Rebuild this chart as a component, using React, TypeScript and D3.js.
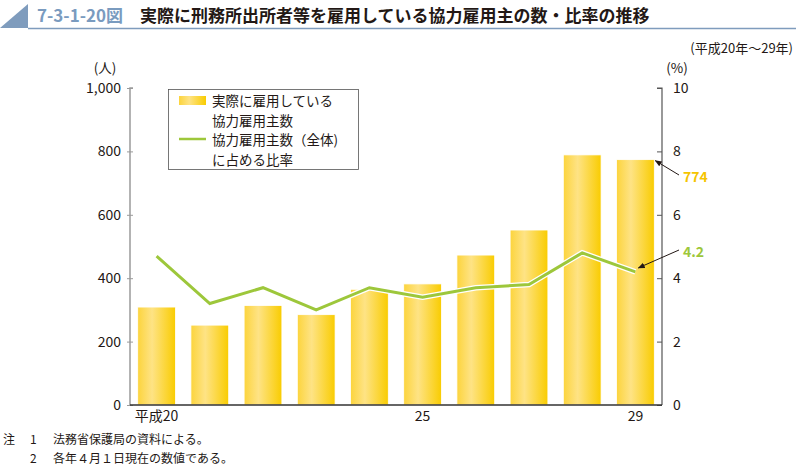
import { useEffect, useRef } from "react";
import * as d3 from "d3";

const YEARS = ["平成20", "21", "22", "23", "24", "25", "26", "27", "28", "29"];
const YEAR_LABELS = ["平成20", "", "", "", "", "25", "", "", "", "29"];
const EMPLOYERS = [309, 252, 314, 285, 365, 382, 473, 552, 789, 774];
const RATIO = [4.7, 3.2, 3.7, 3.0, 3.7, 3.4, 3.7, 3.8, 4.8, 4.2];
const LEFT_TICKS = [0, 200, 400, 600, 800, 1000];
const RIGHT_TICKS = [0, 2, 4, 6, 8, 10];

const FONT = "'Noto Sans CJK JP', 'Noto Sans', sans-serif";
const GREEN = "#9dc73b";
const YELLOW = "#f5c400";

export default function App() {
  const ref = useRef<SVGSVGElement | null>(null);

  useEffect(() => {
    if (!ref.current) return;
    const svg = d3.select(ref.current);
    svg.selectAll("*").remove();

    const left = 130, right = 662, top = 88, bottom = 405;
    const x = d3.scaleBand().domain(YEARS).range([left, right]).paddingInner(0.29).paddingOuter(0.145);
    const y = d3.scaleLinear().domain([0, 1000]).range([bottom, top]);
    const y2 = d3.scaleLinear().domain([0, 10]).range([bottom, top]);

    const defs = svg.append("defs");
    const grad = defs.append("linearGradient").attr("id", "barGrad")
      .attr("x1", "0%").attr("x2", "100%").attr("y1", "0%").attr("y2", "0%");
    grad.append("stop").attr("offset", "0%").attr("stop-color", "#fcd43c");
    grad.append("stop").attr("offset", "38%").attr("stop-color", "#fee385");
    grad.append("stop").attr("offset", "100%").attr("stop-color", "#f9cc00");
    const marker = defs.append("marker").attr("id", "arrow")
      .attr("viewBox", "0 0 10 10").attr("refX", 9).attr("refY", 5)
      .attr("markerWidth", 7).attr("markerHeight", 7).attr("orient", "auto");
    marker.append("path").attr("d", "M0,1 L10,5 L0,9 Z").attr("fill", "#231815");

    // title
    svg.append("path").attr("d", "M0,28 L28,4 L28,28 Z").attr("fill", "#7f9cbd");
    svg.append("line").attr("x1", 28).attr("x2", 796).attr("y1", 28.5).attr("y2", 28.5)
      .attr("stroke", "#7f9cbd").attr("stroke-width", 1.5);
    svg.append("text").attr("x", 37).attr("y", 22)
      .style("font-family", FONT).style("font-size", "17px").style("font-weight", 700)
      .attr("fill", "#7a9bbf").text("7-3-1-20図");
    svg.append("text").attr("x", 140).attr("y", 22)
      .style("font-family", FONT).style("font-size", "17px").style("font-weight", 700)
      .attr("fill", "#231815").text("実際に刑務所出所者等を雇用している協力雇用主の数・比率の推移");
    svg.append("text").attr("x", 793).attr("y", 53).attr("text-anchor", "end")
      .style("font-family", FONT).style("font-size", "13px")
      .attr("fill", "#231815").text("(平成20年〜29年)");

    // bars
    svg.append("g").selectAll("rect").data(EMPLOYERS).join("rect")
      .attr("x", (_, i) => x(YEARS[i])!)
      .attr("y", d => y(d))
      .attr("width", x.bandwidth())
      .attr("height", d => bottom - y(d))
      .attr("fill", "url(#barGrad)")
      .attr("stroke", "#fff").attr("stroke-width", 0.8);

    // line
    const line = d3.line<number>()
      .x((_, i) => x(YEARS[i])! + x.bandwidth() / 2)
      .y(d => y2(d));
    svg.append("path").attr("d", line(RATIO)).attr("fill", "none")
      .attr("stroke", "#fff").attr("stroke-width", 5.5).attr("stroke-linejoin", "miter");
    svg.append("path").attr("d", line(RATIO)).attr("fill", "none")
      .attr("stroke", GREEN).attr("stroke-width", 3).attr("stroke-linejoin", "miter");

    // axes
    const leftAxis = svg.append("g").attr("transform", `translate(${left},0)`)
      .call(d3.axisLeft(y).tickValues(LEFT_TICKS).tickSize(3).tickPadding(6).tickFormat(d3.format(",")));
    leftAxis.select(".domain").attr("stroke", "#9a9a9a").attr("stroke-width", 1.5)
      .attr("d", `M3,${top}H0V${bottom}`);
    leftAxis.selectAll(".tick line").attr("stroke", "#9a9a9a").attr("x2", 3).attr("x1", -3);
    leftAxis.selectAll("text").style("font-family", FONT).style("font-size", "14px").attr("fill", "#231815");

    const rightAxis = svg.append("g").attr("transform", `translate(${right},0)`)
      .call(d3.axisRight(y2).tickValues(RIGHT_TICKS).tickSize(-5).tickPadding(11));
    rightAxis.select(".domain").attr("stroke", "#555").attr("stroke-width", 1.2)
      .attr("d", `M-5,${top}H0V${bottom}`);
    rightAxis.selectAll(".tick line").attr("stroke", "#555");
    rightAxis.selectAll("text").style("font-family", FONT).style("font-size", "14px").attr("fill", "#231815");

    const bottomAxis = svg.append("g").attr("transform", `translate(0,${bottom})`)
      .call(d3.axisBottom(x).tickSize(0).tickPadding(6).tickFormat((_, i) => YEAR_LABELS[i]));
    bottomAxis.select(".domain").attr("stroke", "#333").attr("stroke-width", 1.5)
      .attr("d", `M${left},0H${right}`);
    bottomAxis.selectAll("text").style("font-family", FONT).style("font-size", "14px").attr("fill", "#231815");

    svg.append("text").attr("x", 105).attr("y", 73).attr("text-anchor", "middle")
      .style("font-family", FONT).style("font-size", "13.5px").attr("fill", "#231815").text("(人)");
    svg.append("text").attr("x", 677).attr("y", 73).attr("text-anchor", "middle")
      .style("font-family", FONT).style("font-size", "13.5px").attr("fill", "#231815").text("(%)");

    // legend
    const lg = svg.append("g");
    lg.append("rect").attr("x", 168.5).attr("y", 89.5).attr("width", 190).attr("height", 80)
      .attr("fill", "#fff").attr("stroke", "#555").attr("stroke-width", 0.8);
    lg.append("rect").attr("x", 179).attr("y", 96).attr("width", 27).attr("height", 9).attr("fill", "url(#barGrad)");
    lg.append("line").attr("x1", 179).attr("x2", 206).attr("y1", 139).attr("y2", 139)
      .attr("stroke", GREEN).attr("stroke-width", 2.5);
    const legendLines = ["実際に雇用している", "協力雇用主数", "協力雇用主数（全体)", "に占める比率"];
    lg.selectAll("text.l").data(legendLines).join("text")
      .attr("x", 212).attr("y", (_, i) => 106 + i * 19.5)
      .style("font-family", FONT).style("font-size", "13.5px").attr("fill", "#231815")
      .text(d => d);

    // annotations
    const last = EMPLOYERS.length - 1;
    const bx = x(YEARS[last])! + x.bandwidth();
    svg.append("line").attr("x1", 679).attr("y1", 175).attr("x2", bx + 1).attr("y2", y(EMPLOYERS[last]) + 1)
      .attr("stroke", "#231815").attr("stroke-width", 1).attr("marker-end", "url(#arrow)");
    svg.append("text").attr("x", 683).attr("y", 182)
      .style("font-family", FONT).style("font-size", "14px").style("font-weight", 700)
      .attr("fill", YELLOW).text(String(EMPLOYERS[last]));
    const lx = x(YEARS[last])! + x.bandwidth() / 2;
    svg.append("line").attr("x1", 679).attr("y1", 250).attr("x2", lx + 3).attr("y2", y2(RATIO[last]) - 4)
      .attr("stroke", "#231815").attr("stroke-width", 1).attr("marker-end", "url(#arrow)");
    svg.append("text").attr("x", 683).attr("y", 257)
      .style("font-family", FONT).style("font-size", "14px").style("font-weight", 700)
      .attr("fill", GREEN).text(String(RATIO[last]));

    // notes
    const notes = [["注", "1", "法務省保護局の資料による。"], ["", "2", "各年４月１日現在の数値である。"]];
    notes.forEach((n, i) => {
      const ty = 444 + i * 19;
      svg.append("text").attr("x", 3).attr("y", ty).style("font-family", FONT).style("font-size", "12px").attr("fill", "#231815").text(n[0]);
      svg.append("text").attr("x", 30).attr("y", ty).style("font-family", FONT).style("font-size", "12px").attr("fill", "#231815").text(n[1]);
      svg.append("text").attr("x", 53).attr("y", ty).style("font-family", FONT).style("font-size", "12px").attr("fill", "#231815").text(n[2]);
    });
  }, []);

  return (
    <svg ref={ref} width={796} height={469}
      style={{ position: "absolute", left: 0, top: 0, background: "#fff" }} />
  );
}
